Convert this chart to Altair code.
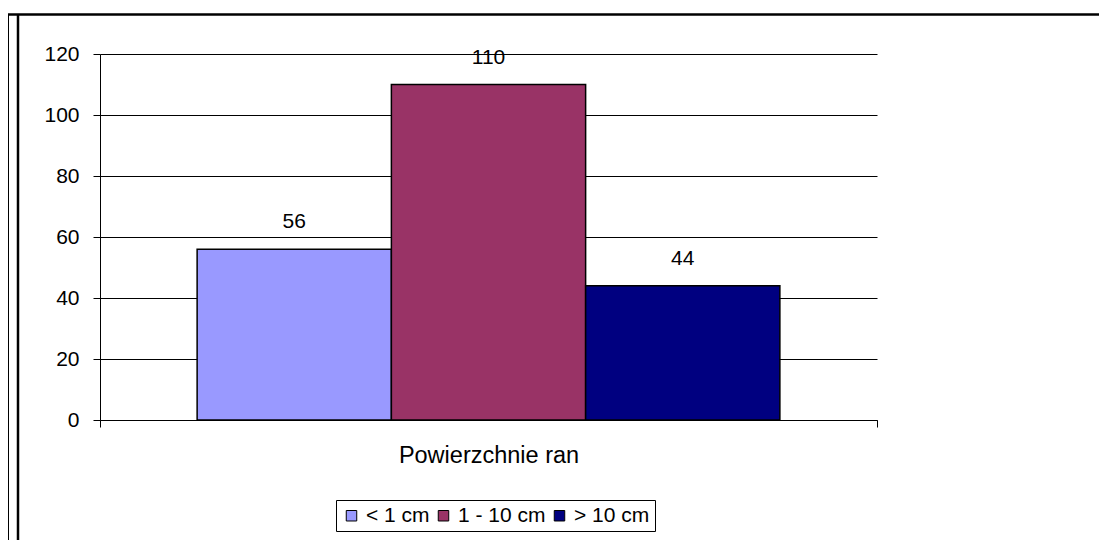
import altair as alt
import pandas as pd

# Wound surface area groups and patient counts
category = "Powierzchnie ran"
series = ["< 1 cm", "1 - 10 cm", "> 10 cm"]
counts = [56, 110, 44]
colors = ["#9999FF", "#993366", "#000080"]

df = pd.DataFrame({"cat": [category] * len(series), "series": series, "value": counts})

FONT = "Liberation Sans"
W, H = 777, 366

x_enc = alt.X("cat:N", scale=alt.Scale(paddingInner=0, paddingOuter=0),
              axis=alt.Axis(title=None, tickBand="extent", tickSize=7, tickColor="black",
                            domainColor="black", labelFontSize=23.5, labelFont=FONT,
                            labelColor="black", labelPadding=16, labelAngle=0,
                            labelLimit=400))
xo_enc = alt.XOffset("series:N", sort=series,
                     scale=alt.Scale(domain=series, paddingInner=0, paddingOuter=0.5))
y_enc = alt.Y("value:Q",
              scale=alt.Scale(domain=[0, 120], nice=False),
              axis=alt.Axis(title=None, values=list(range(0, 121, 20)), tickSize=7,
                            tickColor="black", domainColor="black", gridColor="black",
                            gridOpacity=1, labelFontSize=21, labelFont=FONT,
                            labelColor="black", labelPadding=14))
color_enc = alt.Color("series:N", sort=series,
                      scale=alt.Scale(domain=series, range=colors),
                      legend=alt.Legend(title=None, orient="none", direction="horizontal",
                                        legendX=236, legendY=446, strokeColor="black",
                                        fillColor="white", padding=5, symbolType="square",
                                        symbolSize=110, symbolStrokeColor="black",
                                        symbolStrokeWidth=1, labelFontSize=21,
                                        labelFont=FONT, labelColor="black",
                                        columnPadding=3, symbolOffset=0, labelOffset=4,
                                        cornerRadius=0))

bars = alt.Chart(df).mark_bar(stroke="black", strokeWidth=1.5).encode(
    x=x_enc, xOffset=xo_enc, y=y_enc, color=color_enc
)

labels = alt.Chart(df).mark_text(
    dy=-27, fontSize=21, font=FONT, color="black", baseline="middle"
).encode(x=x_enc, xOffset=xo_enc, y=y_enc, text="value:Q")

# Outer frame of the chart object
frame = alt.Data(values=[{}])
top_line = alt.Chart(frame).mark_rule(color="black", strokeWidth=2.5).encode(
    x=alt.value(-92), x2=alt.value(W + 230), y=alt.value(-39.5))
left_thin = alt.Chart(frame).mark_rule(color="black", strokeWidth=1).encode(
    x=alt.value(-91.5), y=alt.value(-40), y2=alt.value(H + 130))
left_thick = alt.Chart(frame).mark_rule(color="black", strokeWidth=2.5).encode(
    x=alt.value(-82), y=alt.value(-40), y2=alt.value(H + 130))

chart = alt.layer(bars, labels, top_line, left_thin, left_thick).properties(
    width=W, height=H,
    autosize=alt.AutoSizeParams(type="none"),
    padding={"left": 100, "top": 54, "right": 222, "bottom": 120},
    background="white",
).configure_view(stroke=None)

chart.save("out.html", embed_options={"renderer": "svg", "actions": False})
